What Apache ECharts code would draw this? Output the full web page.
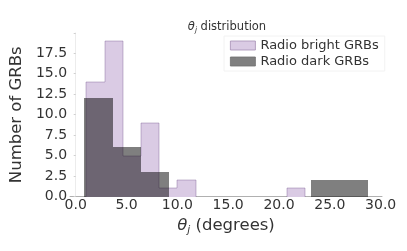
<!DOCTYPE html>
<html>
<head>
<meta charset="utf-8">
<script src="https://cdn.jsdelivr.net/npm/echarts@6/dist/echarts.min.js"></script>
<style>
html,body{margin:0;padding:0;background:#fff;}
#chart{width:407px;height:251px;}
</style>
</head>
<body>
<div id="chart"></div>
<script>
// Bin edges and counts
const brightEdges = [1.06, 2.85, 4.64, 6.43, 8.22, 10.01, 11.80, 13.59, 15.38, 17.17, 18.96, 20.75, 22.54];
const brightCounts = [14, 19, 5, 9, 1, 2, 0, 0, 0, 0, 0, 1];
const darkEdges = [0.84, 3.63, 6.42, 9.21, 12.00, 14.79, 17.58, 20.37, 23.16, 25.95, 28.74];
const darkCounts = [12, 6, 3, 0, 0, 0, 0, 0, 2, 2];
const seriesNames = ['Radio bright GRBs', 'Radio dark GRBs'];
const xTickLabels = ['0.0', '5.0', '10.0', '15.0', '20.0', '25.0', '30.0'];
const yTickLabels = ['0.0', '2.5', '5.0', '7.5', '10.0', '12.5', '15.0', '17.5'];

// each item: [left edge, right edge, count, previous count, next count]
function binsToData(edges, counts) {
  const out = [];
  for (let i = 0; i < counts.length; i++) {
    const prev = i > 0 ? counts[i - 1] : 0;
    const next = i < counts.length - 1 ? counts[i + 1] : 0;
    out.push([edges[i], edges[i + 1], counts[i], prev, next]);
  }
  return out;
}

function makeRender(fill, edge) {
  return function (params, api) {
    const x0 = api.value(0), x1 = api.value(1), c = api.value(2);
    const prev = api.value(3);
    const p0 = api.coord([x0, c]);
    const p1 = api.coord([x1, 0]);
    const L = Math.round(p0[0]), R = Math.round(p1[0]);
    const T = Math.round(p0[1]), B = Math.round(p1[1]);
    const children = [];
    if (c > 0) {
      children.push({
        type: 'rect',
        shape: { x: L, y: T, width: R - L, height: B - T },
        style: { fill: fill }
      });
    }
    if (edge) {
      const st = { stroke: edge, lineWidth: 0.8, fill: null };
      if (c > 0) children.push({ type: 'line', shape: { x1: L, y1: T, x2: R, y2: T }, style: st });
      if (c !== prev) {
        const a = Math.round(api.coord([x0, prev])[1]);
        children.push({ type: 'line', shape: { x1: L, y1: a, x2: L, y2: T }, style: st });
      }
      if (params.dataIndex === params.dataInsideLength - 1 && c > 0) {
        children.push({ type: 'line', shape: { x1: R, y1: T, x2: R, y2: B }, style: st });
      }
    }
    return { type: 'group', children: children };
  };
}

function fmtFrom(list, step) {
  return function (v) {
    const k = v / step;
    if (Math.abs(k - Math.round(k)) < 1e-6) {
      const s = (Math.round(k) * step).toFixed(1);
      return list.indexOf(s) >= 0 ? s : '';
    }
    return '';
  };
}

const chart = echarts.init(document.getElementById('chart'), null, { renderer: 'canvas' });
const FONT = 'DejaVu Sans';
chart.setOption({
  animation: false,
  backgroundColor: '#ffffff',
  title: {
    text: '{t|θ}{s|j} distribution',
    left: 222,
    top: 15,
    textAlign: 'center',
    textStyle: {
      fontFamily: FONT, fontSize: 11.5, fontWeight: 'normal', color: '#333',
      rich: {
        t: { fontFamily: FONT, fontSize: 11.5, fontStyle: 'italic', color: '#333' },
        s: { fontFamily: FONT, fontSize: 7.5, fontStyle: 'italic', color: '#333', verticalAlign: 'bottom', padding: [6, 0, 0, 0] }
      }
    }
  },
  legend: {
    orient: 'vertical',
    left: 224,
    top: 36,
    itemWidth: 25,
    itemHeight: 9,
    itemGap: 3,
    padding: [3, 6, 3, 6],
    backgroundColor: '#ffffff',
    borderColor: '#f2f2f2',
    borderWidth: 1,
    icon: 'rect',
    textStyle: { fontFamily: FONT, fontSize: 13, color: '#333' },
    data: [
      { name: seriesNames[0], itemStyle: { color: '#dacbe4', borderColor: '#a48fb4', borderWidth: 0.8 } },
      { name: seriesNames[1], itemStyle: { color: '#808080', borderColor: '#707070', borderWidth: 0.8 } }
    ]
  },
  grid: { left: 62, right: 25, top: 33, bottom: 54.5 },
  xAxis: {
    type: 'value',
    min: -0.555,
    max: 30.13,
    splitLine: { show: false },
    axisLine: { show: true, lineStyle: { color: '#b0b0b0', width: 1 } },
    axisTick: { show: false },
    axisLabel: { fontFamily: FONT, fontSize: 14, color: '#333', margin: 2, formatter: fmtFrom(xTickLabels, 5) },
    name: '{t|θ}{s|j} (degrees)',
    nameLocation: 'middle',
    nameGap: 1,
    nameTextStyle: {
      fontFamily: FONT, fontSize: 16.5, color: '#333',
      rich: {
        t: { fontFamily: FONT, fontSize: 16.5, fontStyle: 'italic', color: '#333' },
        s: { fontFamily: FONT, fontSize: 10.5, fontStyle: 'italic', color: '#333', verticalAlign: 'bottom', padding: [8, 0, 0, 0] }
      }
    }
  },
  yAxis: {
    type: 'value',
    min: 0,
    max: 19.95,
    interval: 2.5,
    splitLine: { show: false },
    axisLine: { show: true, lineStyle: { color: '#ececec', width: 1 } },
    axisTick: { show: true, length: 2, lineStyle: { color: '#d0d0d0' } },
    axisLabel: { fontFamily: FONT, fontSize: 14, color: '#333', margin: 3, formatter: fmtFrom(yTickLabels, 2.5) },
    name: 'Number of GRBs',
    nameLocation: 'middle',
    nameGap: 32,
    nameTextStyle: { fontFamily: FONT, fontSize: 16.5, color: '#333' }
  },
  series: [
    {
      name: seriesNames[0],
      type: 'custom',
      renderItem: makeRender('#dacbe4', 'rgba(120,90,145,0.5)'),
      encode: { x: [0, 1], y: 2 },
      itemStyle: { color: '#dacbe4' },
      data: binsToData(brightEdges, brightCounts),
      z: 2
    },
    {
      name: seriesNames[1],
      type: 'custom',
      renderItem: makeRender('rgba(0,0,0,0.5)', null),
      encode: { x: [0, 1], y: 2 },
      itemStyle: { color: '#808080' },
      data: binsToData(darkEdges, darkCounts),
      z: 3
    }
  ]
});
</script>
</body>
</html>
